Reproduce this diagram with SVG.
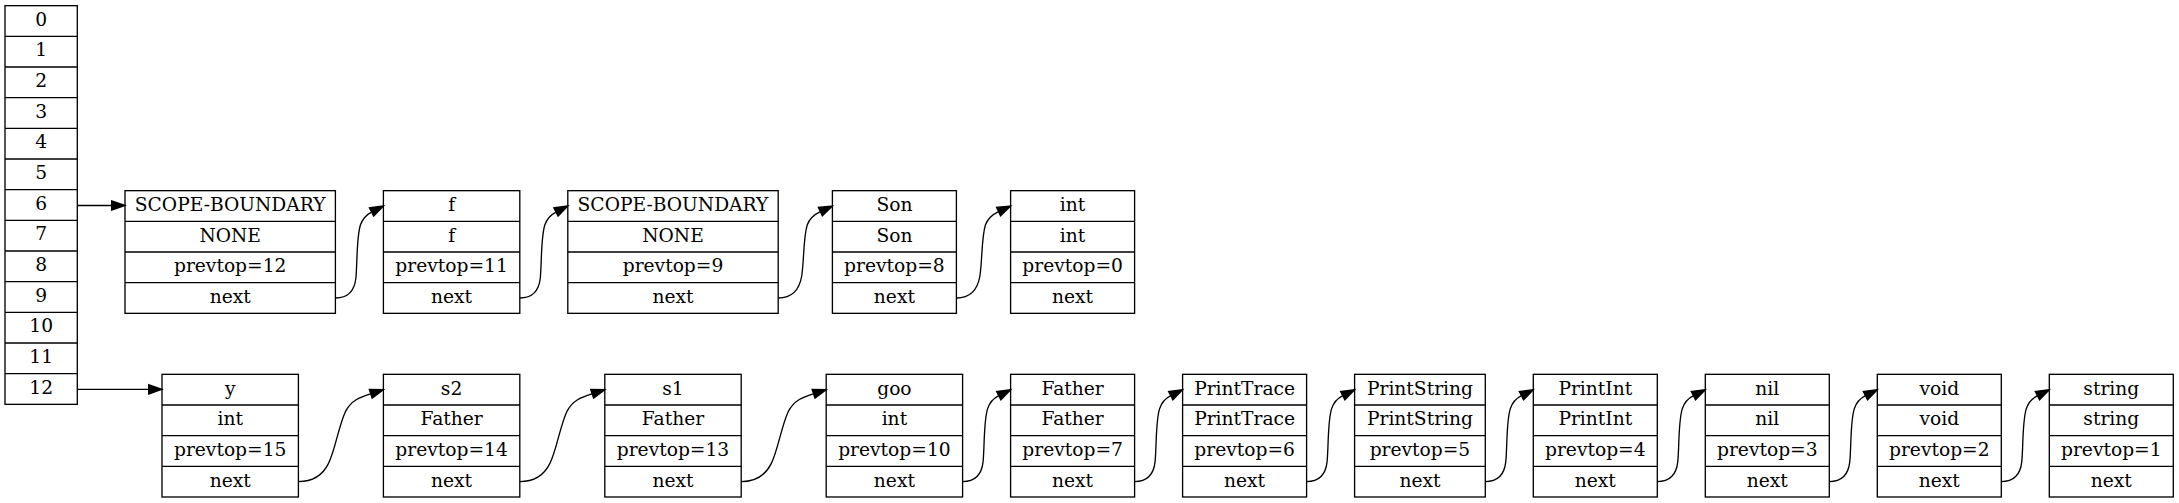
<svg xmlns="http://www.w3.org/2000/svg" width="2179" height="503" viewBox="0 0 2179 503">
<style>
.box{fill:#fff;stroke:#000;stroke-width:1.33}
.sep{stroke:#000;stroke-width:1.33}
text{font-family:"DejaVu Serif","Liberation Serif",serif;font-size:18.67px;fill:#000;text-anchor:middle}
.edge path{fill:none;stroke:#000;stroke-width:1.33}
.edge polygon{fill:#000;stroke:#000;stroke-width:1.33}
</style>
<rect width="2179" height="503" fill="#fff"/>
<g id="table">
<rect class="box" x="5" y="5.67" width="72.3" height="398.67"/>
<path class="sep" d="M5,36.33H77.3M5,67H77.3M5,97.67H77.3M5,128.33H77.3M5,159H77.3M5,189.67H77.3M5,220.33H77.3M5,251H77.3M5,281.67H77.3M5,312.33H77.3M5,343H77.3M5,373.67H77.3"/>
<g transform="translate(0,-0.8)">
<text x="41.15" y="26.6">0</text>
<text x="41.15" y="57.27">1</text>
<text x="41.15" y="87.93">2</text>
<text x="41.15" y="118.6">3</text>
<text x="41.15" y="149.27">4</text>
<text x="41.15" y="179.93">5</text>
<text x="41.15" y="210.6">6</text>
<text x="41.15" y="241.27">7</text>
<text x="41.15" y="271.93">8</text>
<text x="41.15" y="302.6">9</text>
<text x="41.15" y="333.27">10</text>
<text x="41.15" y="363.93">11</text>
<text x="41.15" y="394.6">12</text>
</g>
</g>
<g id="scope1">
<rect class="box" x="125" y="190.67" width="210.4" height="122.67"/>
<path class="sep" d="M125,221.33H335.4M125,252H335.4M125,282.67H335.4"/>
<text x="230.2" y="210.9">SCOPE-BOUNDARY</text><text x="230.2" y="241.57">NONE</text><text x="230.2" y="272.23">prevtop=12</text><text x="230.2" y="302.9">next</text>
</g>
<g id="f">
<rect class="box" x="383.4" y="190.67" width="136.4" height="122.67"/>
<path class="sep" d="M383.4,221.33H519.8M383.4,252H519.8M383.4,282.67H519.8"/>
<text x="451.6" y="210.9">f</text><text x="451.6" y="241.57">f</text><text x="451.6" y="272.23">prevtop=11</text><text x="451.6" y="302.9">next</text>
</g>
<g id="scope2">
<rect class="box" x="567.8" y="190.67" width="210.4" height="122.67"/>
<path class="sep" d="M567.8,221.33H778.2M567.8,252H778.2M567.8,282.67H778.2"/>
<text x="673" y="210.9">SCOPE-BOUNDARY</text><text x="673" y="241.57">NONE</text><text x="673" y="272.23">prevtop=9</text><text x="673" y="302.9">next</text>
</g>
<g id="son">
<rect class="box" x="832.4" y="190.67" width="124" height="122.67"/>
<path class="sep" d="M832.4,221.33H956.4M832.4,252H956.4M832.4,282.67H956.4"/>
<text x="894.4" y="210.9">Son</text><text x="894.4" y="241.57">Son</text><text x="894.4" y="272.23">prevtop=8</text><text x="894.4" y="302.9">next</text>
</g>
<g id="int">
<rect class="box" x="1010.6" y="190.67" width="124" height="122.67"/>
<path class="sep" d="M1010.6,221.33H1134.6M1010.6,252H1134.6M1010.6,282.67H1134.6"/>
<text x="1072.6" y="210.9">int</text><text x="1072.6" y="241.57">int</text><text x="1072.6" y="272.23">prevtop=0</text><text x="1072.6" y="302.9">next</text>
</g>
<g id="y">
<rect class="box" x="162" y="374.33" width="136.4" height="122.67"/>
<path class="sep" d="M162,405H298.4M162,435.67H298.4M162,466.33H298.4"/>
<text x="230.2" y="394.57">y</text><text x="230.2" y="425.23">int</text><text x="230.2" y="455.9">prevtop=15</text><text x="230.2" y="486.57">next</text>
</g>
<g id="s2">
<rect class="box" x="383.4" y="374.33" width="136.4" height="122.67"/>
<path class="sep" d="M383.4,405H519.8M383.4,435.67H519.8M383.4,466.33H519.8"/>
<text x="451.6" y="394.57">s2</text><text x="451.6" y="425.23">Father</text><text x="451.6" y="455.9">prevtop=14</text><text x="451.6" y="486.57">next</text>
</g>
<g id="s1">
<rect class="box" x="604.8" y="374.33" width="136.4" height="122.67"/>
<path class="sep" d="M604.8,405H741.2M604.8,435.67H741.2M604.8,466.33H741.2"/>
<text x="673" y="394.57">s1</text><text x="673" y="425.23">Father</text><text x="673" y="455.9">prevtop=13</text><text x="673" y="486.57">next</text>
</g>
<g id="goo">
<rect class="box" x="826.2" y="374.33" width="136.4" height="122.67"/>
<path class="sep" d="M826.2,405H962.6M826.2,435.67H962.6M826.2,466.33H962.6"/>
<text x="894.4" y="394.57">goo</text><text x="894.4" y="425.23">int</text><text x="894.4" y="455.9">prevtop=10</text><text x="894.4" y="486.57">next</text>
</g>
<g id="father">
<rect class="box" x="1010.6" y="374.33" width="124" height="122.67"/>
<path class="sep" d="M1010.6,405H1134.6M1010.6,435.67H1134.6M1010.6,466.33H1134.6"/>
<text x="1072.6" y="394.57">Father</text><text x="1072.6" y="425.23">Father</text><text x="1072.6" y="455.9">prevtop=7</text><text x="1072.6" y="486.57">next</text>
</g>
<g id="printtrace">
<rect class="box" x="1182.6" y="374.33" width="124" height="122.67"/>
<path class="sep" d="M1182.6,405H1306.6M1182.6,435.67H1306.6M1182.6,466.33H1306.6"/>
<text x="1244.6" y="394.57">PrintTrace</text><text x="1244.6" y="425.23">PrintTrace</text><text x="1244.6" y="455.9">prevtop=6</text><text x="1244.6" y="486.57">next</text>
</g>
<g id="printstring">
<rect class="box" x="1354.6" y="374.33" width="130.7" height="122.67"/>
<path class="sep" d="M1354.6,405H1485.3M1354.6,435.67H1485.3M1354.6,466.33H1485.3"/>
<text x="1419.95" y="394.57">PrintString</text><text x="1419.95" y="425.23">PrintString</text><text x="1419.95" y="455.9">prevtop=5</text><text x="1419.95" y="486.57">next</text>
</g>
<g id="printint">
<rect class="box" x="1533.3" y="374.33" width="124" height="122.67"/>
<path class="sep" d="M1533.3,405H1657.3M1533.3,435.67H1657.3M1533.3,466.33H1657.3"/>
<text x="1595.3" y="394.57">PrintInt</text><text x="1595.3" y="425.23">PrintInt</text><text x="1595.3" y="455.9">prevtop=4</text><text x="1595.3" y="486.57">next</text>
</g>
<g id="nil">
<rect class="box" x="1705.3" y="374.33" width="124" height="122.67"/>
<path class="sep" d="M1705.3,405H1829.3M1705.3,435.67H1829.3M1705.3,466.33H1829.3"/>
<text x="1767.3" y="394.57">nil</text><text x="1767.3" y="425.23">nil</text><text x="1767.3" y="455.9">prevtop=3</text><text x="1767.3" y="486.57">next</text>
</g>
<g id="void">
<rect class="box" x="1877.3" y="374.33" width="124" height="122.67"/>
<path class="sep" d="M1877.3,405H2001.3M1877.3,435.67H2001.3M1877.3,466.33H2001.3"/>
<text x="1939.3" y="394.57">void</text><text x="1939.3" y="425.23">void</text><text x="1939.3" y="455.9">prevtop=2</text><text x="1939.3" y="486.57">next</text>
</g>
<g id="string">
<rect class="box" x="2049.3" y="374.33" width="124" height="122.67"/>
<path class="sep" d="M2049.3,405H2173.3M2049.3,435.67H2173.3M2049.3,466.33H2173.3"/>
<text x="2111.3" y="394.57">string</text><text x="2111.3" y="425.23">string</text><text x="2111.3" y="455.9">prevtop=1</text><text x="2111.3" y="486.57">next</text>
</g>
<g id="connectors">
<g class="edge"><path d="M77.3,205.5H111.7"/><polygon points="125,205.5 111.7,200.83 111.7,210.17"/></g>
<g class="edge"><path d="M77.3,389.3H148.7"/><polygon points="162,389.3 148.7,384.63 148.7,393.97"/></g>
<g class="edge" transform="translate(335.4,298)"><path d="M0,0 C12,0 19,-6 20.5,-20 C22,-36 21,-60 25,-73 C27,-79 31,-83.3 36.15,-85.96"/><polygon points="48,-92 38.27,-81.8 34.03,-90.12"/></g>
<g class="edge" transform="translate(519.8,298)"><path d="M0,0 C12,0 19,-6 20.5,-20 C22,-36 21,-60 25,-73 C27,-79 31,-83.3 36.15,-85.96"/><polygon points="48,-92 38.27,-81.8 34.03,-90.12"/></g>
<g class="edge" transform="translate(778.2,298)"><path d="M0,0 C13,0 21,-7 23.5,-22 C26,-38 25,-60 29,-73 C31.5,-80 36.5,-83.7 42.15,-86.38"/><polygon points="54.2,-92 44.13,-82.15 40.17,-90.61"/></g>
<g class="edge" transform="translate(956.4,298)"><path d="M0,0 C13,0 21,-7 23.5,-22 C26,-38 25,-60 29,-73 C31.5,-80 36.5,-83.7 42.15,-86.38"/><polygon points="54.2,-92 44.13,-82.15 40.17,-90.61"/></g>
<g class="edge" transform="translate(298.4,481.67)"><path d="M0,0 C14,0 24,-6 30,-18 C37,-32 40,-55 47,-70 C53,-82 62.5,-84.7 72.35,-87.89"/><polygon points="85,-92 73.79,-83.45 70.91,-92.33"/></g>
<g class="edge" transform="translate(519.8,481.67)"><path d="M0,0 C14,0 24,-6 30,-18 C37,-32 40,-55 47,-70 C53,-82 62.5,-84.7 72.35,-87.89"/><polygon points="85,-92 73.79,-83.45 70.91,-92.33"/></g>
<g class="edge" transform="translate(741.2,481.67)"><path d="M0,0 C14,0 24,-6 30,-18 C37,-32 40,-55 47,-70 C53,-82 62.5,-84.7 72.35,-87.89"/><polygon points="85,-92 73.79,-83.45 70.91,-92.33"/></g>
<g class="edge" transform="translate(962.6,481.67)"><path d="M0,0 C12,0 19,-6 20.5,-20 C22,-36 21,-60 25,-73 C27,-79 31,-83.3 36.15,-85.96"/><polygon points="48,-92 38.27,-81.8 34.03,-90.12"/></g>
<g class="edge" transform="translate(1134.6,481.67)"><path d="M0,0 C12,0 19,-6 20.5,-20 C22,-36 21,-60 25,-73 C27,-79 31,-83.3 36.15,-85.96"/><polygon points="48,-92 38.27,-81.8 34.03,-90.12"/></g>
<g class="edge" transform="translate(1306.6,481.67)"><path d="M0,0 C12,0 19,-6 20.5,-20 C22,-36 21,-60 25,-73 C27,-79 31,-83.3 36.15,-85.96"/><polygon points="48,-92 38.27,-81.8 34.03,-90.12"/></g>
<g class="edge" transform="translate(1485.3,481.67)"><path d="M0,0 C12,0 19,-6 20.5,-20 C22,-36 21,-60 25,-73 C27,-79 31,-83.3 36.15,-85.96"/><polygon points="48,-92 38.27,-81.8 34.03,-90.12"/></g>
<g class="edge" transform="translate(1657.3,481.67)"><path d="M0,0 C12,0 19,-6 20.5,-20 C22,-36 21,-60 25,-73 C27,-79 31,-83.3 36.15,-85.96"/><polygon points="48,-92 38.27,-81.8 34.03,-90.12"/></g>
<g class="edge" transform="translate(1829.3,481.67)"><path d="M0,0 C12,0 19,-6 20.5,-20 C22,-36 21,-60 25,-73 C27,-79 31,-83.3 36.15,-85.96"/><polygon points="48,-92 38.27,-81.8 34.03,-90.12"/></g>
<g class="edge" transform="translate(2001.3,481.67)"><path d="M0,0 C12,0 19,-6 20.5,-20 C22,-36 21,-60 25,-73 C27,-79 31,-83.3 36.15,-85.96"/><polygon points="48,-92 38.27,-81.8 34.03,-90.12"/></g>
</g>
</svg>
